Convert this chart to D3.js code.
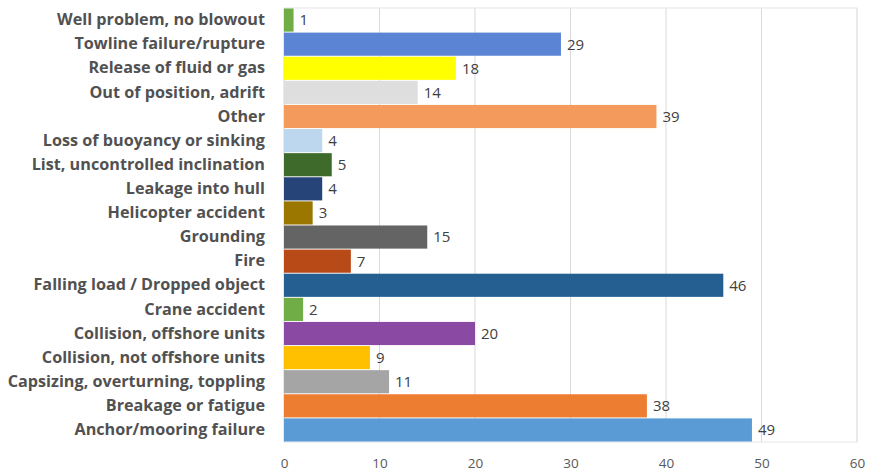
<!DOCTYPE html>
<html>
<head>
<meta charset="utf-8">
<script src="https://cdn.jsdelivr.net/npm/d3@7"></script>
<style>
  body { margin: 0; background: #fff; }
  svg { display: block; }
</style>
</head>
<body>
<div id="chart"></div>
<script>
const categories = [
  "Well problem, no blowout",
  "Towline failure/rupture",
  "Release of fluid or gas",
  "Out of position, adrift",
  "Other",
  "Loss of buoyancy or sinking",
  "List, uncontrolled inclination",
  "Leakage into hull",
  "Helicopter accident",
  "Grounding",
  "Fire",
  "Falling load / Dropped object",
  "Crane accident",
  "Collision, offshore units",
  "Collision, not offshore units",
  "Capsizing, overturning, toppling",
  "Breakage or fatigue",
  "Anchor/mooring failure"
];
const values = [1, 29, 18, 14, 39, 4, 5, 4, 3, 15, 7, 46, 2, 20, 9, 11, 38, 49];
const barColors = [
  "#70ad47", "#5b84d4", "#ffff00", "#dedede", "#f39a5c", "#bdd7ee",
  "#3e6b2b", "#264478", "#9c7700", "#646464", "#b84a17", "#255e91",
  "#70ad47", "#8a4aa3", "#ffc000", "#a5a5a5", "#ed7d31", "#5b9bd5"
];
const xTicks = [0, 10, 20, 30, 40, 50, 60];

const width = 872, height = 474;
const margin = { top: 8, right: 15, bottom: 32, left: 284 };

const svg = d3.select("#chart").append("svg")
  .attr("width", width)
  .attr("height", height);

const x = d3.scaleLinear()
  .domain([0, 60])
  .range([margin.left, width - margin.right]);

const y = d3.scaleBand()
  .domain(categories)
  .range([margin.top, height - margin.bottom])
  .paddingInner(0.04)
  .paddingOuter(0.02);

// vertical gridlines
svg.append("g")
  .selectAll("line")
  .data(xTicks)
  .join("line")
  .attr("x1", d => x(d))
  .attr("x2", d => x(d))
  .attr("y1", margin.top)
  .attr("y2", height - margin.bottom)
  .attr("stroke", "#d9d9d9")
  .attr("stroke-width", 1);

// plot frame
svg.append("rect")
  .attr("x", x(0))
  .attr("y", margin.top)
  .attr("width", x(60) - x(0))
  .attr("height", height - margin.bottom - margin.top)
  .attr("fill", "none")
  .attr("stroke", "#e6e6e6");

svg.append("g")
  .selectAll("rect")
  .data(categories)
  .join("rect")
  .attr("x", x(0))
  .attr("y", d => y(d))
  .attr("width", (d, i) => x(values[i]) - x(0))
  .attr("height", y.bandwidth())
  .attr("fill", (d, i) => barColors[i]);

// value labels
svg.append("g")
  .selectAll("text")
  .data(categories)
  .join("text")
  .attr("x", (d, i) => x(values[i]) + 6)
  .attr("y", d => y(d) + y.bandwidth() / 2)
  .attr("dy", "0.36em")
  .attr("fill", "#404040")
  .style("font-family", "'Open Sans', sans-serif")
  .style("font-size", "15px")
  .text((d, i) => values[i]);

// category axis
const yAxis = svg.append("g")
  .attr("transform", `translate(${x(0) - 19},0)`)
  .call(d3.axisLeft(y).tickSize(0).tickPadding(0));
yAxis.select(".domain").remove();
yAxis.selectAll("text")
  .attr("fill", "#515151")
  .style("font-family", "'Open Sans', sans-serif")
  .style("font-weight", "700")
  .style("font-size", "16.2px");

// x axis labels
const xAxis = svg.append("g")
  .attr("transform", `translate(0,${height - margin.bottom})`)
  .call(d3.axisBottom(x).tickValues(xTicks).tickSize(0).tickPadding(16));
xAxis.select(".domain").remove();
xAxis.selectAll("text")
  .attr("fill", "#595959")
  .style("font-family", "'Open Sans', sans-serif")
  .style("font-size", "13.5px");
</script>
</body>
</html>
